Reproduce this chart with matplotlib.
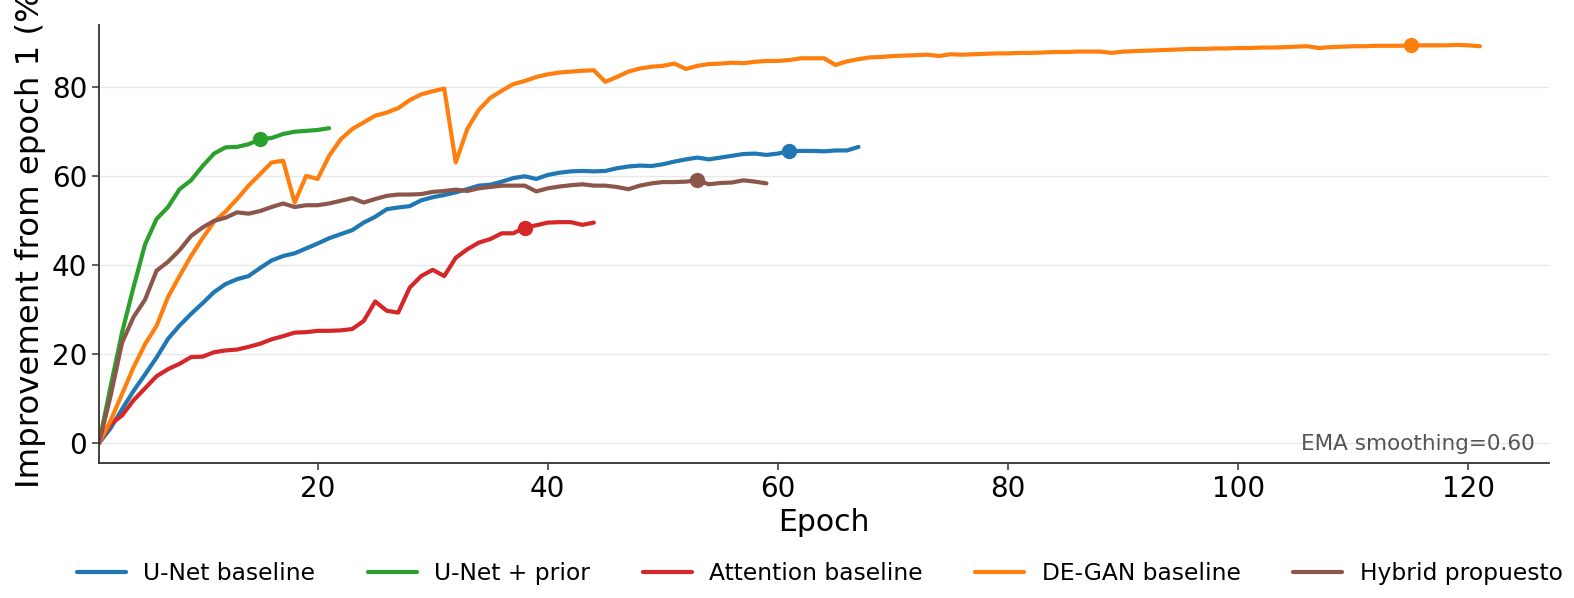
import matplotlib
matplotlib.use("Agg")
import matplotlib.pyplot as plt

# Smoothed curves (EMA 0.60), value per epoch starting at epoch 1
unet = [0.0, 3.3, 7.6, 11.7, 15.4, 19.2, 23.4, 26.4, 29.0, 31.4,
        33.9, 35.7, 36.8, 37.5, 39.3, 41.0, 42.0, 42.6, 43.7, 44.8,
        46.0, 46.9, 47.8, 49.5, 50.8, 52.5, 52.9, 53.2, 54.5, 55.2,
        55.7, 56.3, 57.0, 57.8, 58.0, 58.7, 59.5, 59.9, 59.3, 60.2,
        60.7, 61.0, 61.1, 61.0, 61.1, 61.7, 62.1, 62.3, 62.2, 62.6,
        63.2, 63.7, 64.1, 63.7, 64.1, 64.5, 64.9, 65.0, 64.7, 65.0,
        65.6, 65.6, 65.6, 65.5, 65.7, 65.7, 66.5]

unet_prior = [0.0, 12.6, 24.8, 35.0, 44.6, 50.3, 53.0, 57.0, 59.0, 62.2,
              65.0, 66.4, 66.5, 67.1, 68.2, 68.5, 69.4, 69.9, 70.1, 70.3,
              70.7]

attention = [0.0, 4.2, 6.2, 9.6, 12.3, 15.0, 16.6, 17.8, 19.3, 19.4,
             20.4, 20.8, 21.0, 21.6, 22.3, 23.3, 24.0, 24.8, 24.9, 25.2,
             25.2, 25.3, 25.6, 27.4, 31.8, 29.7, 29.3, 34.9, 37.5, 38.9,
             37.5, 41.6, 43.5, 45.0, 45.8, 47.1, 47.1, 48.4, 48.9, 49.5,
             49.6, 49.6, 49.0, 49.5]

degan = [0.0, 5.0, 11.0, 17.0, 22.2, 26.3, 32.8, 37.5, 42.0, 46.0,
         49.7, 52.0, 54.8, 57.8, 60.4, 63.0, 63.4, 54.0, 60.0, 59.3,
         64.5, 68.2, 70.5, 72.0, 73.5, 74.2, 75.2, 77.0, 78.3, 79.0,
         79.6, 63.0, 70.5, 74.8, 77.5, 79.1, 80.6, 81.3, 82.2, 82.8,
         83.2, 83.4, 83.6, 83.7, 81.1, 82.2, 83.4, 84.1, 84.5, 84.7,
         85.2, 84.0, 84.7, 85.1, 85.2, 85.4, 85.3, 85.6, 85.8, 85.8,
         86.0, 86.4, 86.4, 86.4, 84.9, 85.7, 86.2, 86.6, 86.7, 86.9,
         87.0, 87.1, 87.2, 86.9, 87.3, 87.2, 87.3, 87.4, 87.5, 87.5,
         87.6, 87.6, 87.7, 87.8, 87.8, 87.9, 87.9, 87.9, 87.6, 87.9,
         88.0, 88.1, 88.2, 88.3, 88.4, 88.5, 88.5, 88.6, 88.6, 88.7,
         88.7, 88.8, 88.8, 88.9, 89.0, 89.1, 88.7, 88.9, 89.0, 89.1,
         89.1, 89.2, 89.2, 89.2, 89.3, 89.3, 89.3, 89.3, 89.4, 89.3,
         89.1]

hybrid = [0.0, 10.5, 22.5, 28.3, 32.2, 38.7, 40.7, 43.3, 46.5, 48.4,
          49.9, 50.6, 51.8, 51.5, 52.1, 53.0, 53.8, 53.0, 53.4, 53.4,
          53.8, 54.4, 55.0, 54.0, 54.8, 55.5, 55.8, 55.8, 55.9, 56.4,
          56.6, 56.9, 56.6, 57.2, 57.5, 57.8, 57.8, 57.8, 56.5, 57.2,
          57.6, 57.9, 58.1, 57.8, 57.8, 57.5, 57.0, 57.8, 58.3, 58.6,
          58.6, 58.7, 59.0, 58.1, 58.4, 58.5, 59.0, 58.7, 58.3]

labels = ["U-Net baseline", "U-Net + prior", "Attention baseline",
          "DE-GAN baseline", "Hybrid propuesto"]
best_epochs = [61, 15, 38, 115, 53]
colors = ["#1f77b4", "#2ca02c", "#d62728", "#ff7f0e", "#8c564b"]

series = [unet, unet_prior, attention, degan, hybrid]

fig = plt.figure(figsize=(15.74, 5.98), dpi=100)
ax = fig.add_axes([0.0629, 0.2258, 0.9212, 0.7324])

for values, label, best, color in zip(series, labels, best_epochs, colors):
    epochs = list(range(1, len(values) + 1))
    ax.plot(epochs, values, color=color, lw=3.0, label=label,
            solid_capstyle="round", solid_joinstyle="round")
    # dot on the best epoch
    ax.plot([best], [values[best - 1]], "o", color=color, ms=10)

ax.set_xlim(left=1)
ax.grid(axis="y", color="#e8e8e8", lw=1.0)
ax.set_axisbelow(True)
for side in ["top", "right"]:
    ax.spines[side].set_visible(False)
for side in ["left", "bottom"]:
    ax.spines[side].set_color("#333333")
    ax.spines[side].set_linewidth(1.3)
ax.tick_params(labelsize=20, color="#333333", length=5, width=1.1)

ax.set_xlabel("Epoch", fontsize=21.5)
ax.set_ylabel("Improvement from epoch 1 (%)", fontsize=23.3)
ax.yaxis.label.set_y(0.525)

ax.text(0.99, 0.02, "EMA smoothing=0.60", transform=ax.transAxes,
        ha="right", va="bottom", fontsize=15.5, color="#555555")

ax.legend(loc="center", bbox_to_anchor=(0.497, -0.252), ncol=5,
          frameon=False, fontsize=16.8, handlelength=2.1,
          handletextpad=0.75, columnspacing=2.25)

fig.savefig("out.png", dpi=100)
